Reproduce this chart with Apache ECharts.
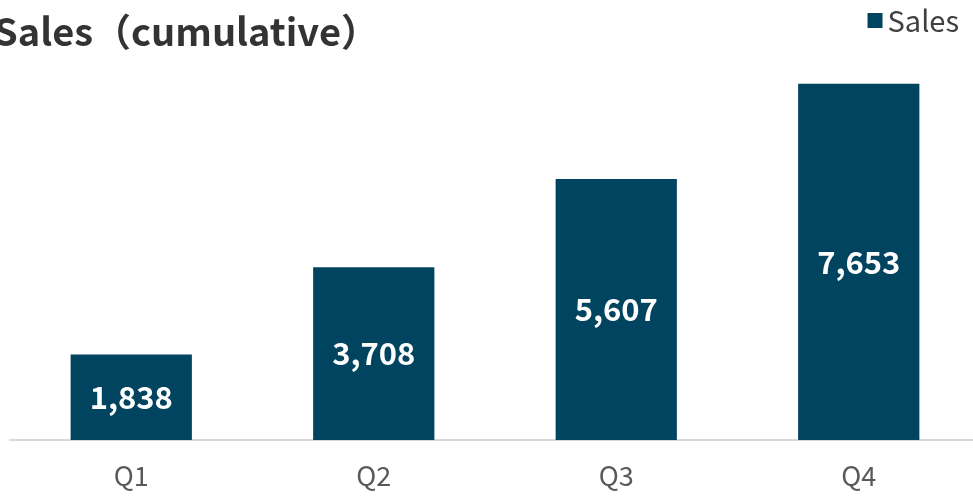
<!DOCTYPE html>
<html>
<head>
<meta charset="utf-8">
<script src="https://cdn.jsdelivr.net/npm/echarts@6/dist/echarts.min.js"></script>
<style>
  html, body { margin: 0; padding: 0; background: #fff; }
  #chart { width: 973px; height: 496px; }
</style>
</head>
<body>
<div id="chart"></div>
<script>
// Quarterly cumulative sales
const quarters = ['Q1', 'Q2', 'Q3', 'Q4'];
const salesCumulative = [1838, 3708, 5607, 7653];
const seriesName = 'Sales';
const chartTitle = 'Sales（cumulative）';

const FONT = '"Noto Sans CJK JP", "Noto Sans", sans-serif';
const chart = echarts.init(document.getElementById('chart'), null, { renderer: 'canvas' });

chart.setOption({
  animation: false,
  backgroundColor: '#ffffff',
  title: {
    text: chartTitle,
    left: -11,
    top: 8,
    textStyle: { fontFamily: FONT, fontSize: 38, fontWeight: 'bold', color: '#333333' }
  },
  legend: {
    data: [seriesName],
    right: 9,
    top: 1,
    icon: 'rect',
    itemWidth: 15,
    itemHeight: 15,
    itemGap: 8,
    textStyle: { fontFamily: FONT, fontSize: 29, color: '#404040' }
  },
  grid: { left: 10, width: 970, top: 21, bottom: 56, containLabel: false, outerBoundsMode: 'none' },
  xAxis: {
    type: 'category',
    data: quarters,
    axisTick: { show: false },
    axisLine: { show: true, lineStyle: { color: '#d9d9d9', width: 2 } },
    axisLabel: { fontFamily: FONT, fontSize: 27, color: '#595959', margin: 22 }
  },
  yAxis: {
    type: 'value',
    min: 0,
    max: 9000,
    show: false,
    splitLine: { show: false }
  },
  series: [{
    name: seriesName,
    type: 'bar',
    data: salesCumulative,
    barCategoryGap: '50%',
    itemStyle: { color: '#00445f' },
    label: {
      show: true,
      position: 'inside',
      formatter: p => p.value.toLocaleString('en-US'),
      fontFamily: FONT,
      fontSize: 31,
      fontWeight: 'bold',
      color: '#ffffff'
    }
  }]
});
</script>
</body>
</html>
